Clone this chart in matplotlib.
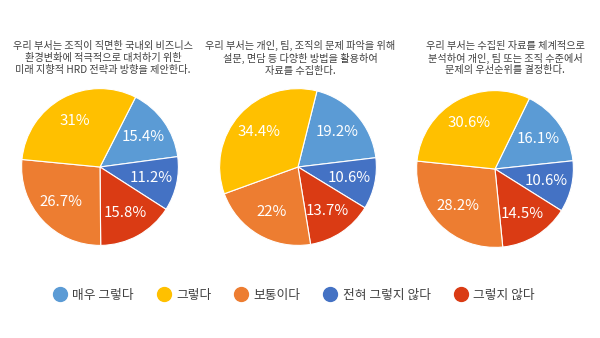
import matplotlib
matplotlib.use('Agg')
import matplotlib.pyplot as plt
from matplotlib.lines import Line2D

plt.rcParams['font.family'] = ['Noto Sans CJK KR', 'DejaVu Sans']

# legend order
categories = ['매우 그렇다', '그렇다', '보통이다', '전혀 그렇지 않다', '그렇지 않다']
colors = ['#5B9BD5', '#FFC000', '#ED7D31', '#4472C4', '#DA3B14']

# clockwise drawing order in the pies
pie_order = ['매우 그렇다', '전혀 그렇지 않다', '그렇지 않다', '보통이다', '그렇다']

titles = [
    '우리 부서는 조직이 직면한 국내외 비즈니스\n환경변화에 적극적으로 대처하기 위한\n미래 지향적 HRD 전략과 방향을 제안한다.',
    '우리 부서는 개인, 팀, 조직의 문제 파악을 위해\n설문, 면담 등 다양한 방법을 활용하여\n자료를 수집한다.',
    '우리 부서는 수집된 자료를 체계적으로\n분석하여 개인, 팀 또는 조직 수준에서\n문제의 우선순위를 결정한다.',
]

# values per pie, in pie_order
values_1 = [15.4, 11.2, 15.8, 26.7, 31]
values_2 = [19.2, 10.6, 13.7, 22, 34.4]
values_3 = [16.1, 10.6, 14.5, 28.2, 30.6]
all_values = [values_1, values_2, values_3]

start_offsets = [27, 14, 26]
centers = [(100, 167), (298, 167), (495, 169)]
title_x = [103, 300, 505]

W, H = 600, 338
fig = plt.figure(figsize=(6, 3.38), dpi=100)
fig.patch.set_facecolor('white')

color_of = dict(zip(categories, colors))
r = 80

for i, vals in enumerate(all_values):
    cx, cy = centers[i]
    ax = fig.add_axes([(cx - r) / W, (H - cy - r) / H, 2 * r / W, 2 * r / H])
    wedges, texts, autotexts = ax.pie(
        vals, colors=[color_of[c] for c in pie_order],
        startangle=90 - start_offsets[i], counterclock=False, radius=0.98,
        autopct='%1.1f%%', pctdistance=0.67,
        wedgeprops=dict(edgecolor='white', linewidth=0.8),
        textprops=dict(color='white', fontsize=10.8))
    for t, v in zip(autotexts, vals):
        t.set_text(f'{v:g}%')
    ax.set_xlim(-1, 1)
    ax.set_ylim(-1, 1)
    ax.axis('off')
    fig.text(title_x[i] / W, 1 - 58 / H, titles[i], ha='center', va='center',
             fontsize=7.3, color='#404040', linespacing=1.2)

handles = [Line2D([], [], marker='o', linestyle='none', markersize=10,
                  markerfacecolor=c, markeredgecolor=c) for c in colors]
fig.legend(handles, categories, loc='center', bbox_to_anchor=(0.49, 1 - 295 / H),
           ncol=5, frameon=False, fontsize=9.2, labelcolor='#404040',
           handletextpad=0.45, columnspacing=1.85, handlelength=1.0)

fig.savefig('out.png', dpi=100, facecolor='white')
